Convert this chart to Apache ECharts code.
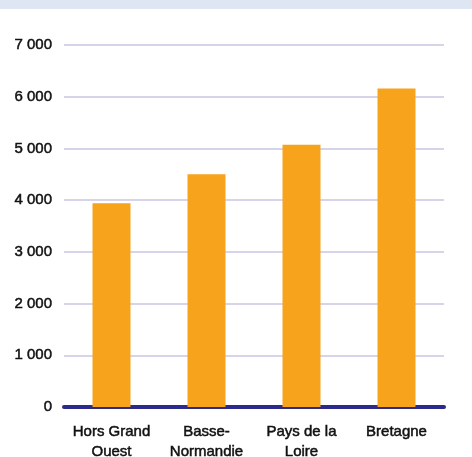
<!DOCTYPE html>
<html>
<head>
<meta charset="utf-8">
<script src="https://cdn.jsdelivr.net/npm/echarts@6/dist/echarts.min.js"></script>
<style>
html,body{margin:0;padding:0;background:#fff;}
#c{width:472px;height:457px;}
</style>
</head>
<body>
<div id="c"></div>
<script>
var categories = ['Hors Grand\nOuest', 'Basse-\nNormandie', 'Pays de la\nLoire', 'Bretagne'];
var values = [3940, 4500, 5070, 6160];
var yTicks = { min: 0, max: 7000, interval: 1000 };

var chart = echarts.init(document.getElementById('c'), null, { renderer: 'canvas' });
chart.setOption({
  animation: false,
  backgroundColor: '#ffffff',
  graphic: [{
    type: 'rect', left: 0, top: 0,
    shape: { width: 472, height: 9 },
    style: { fill: '#dfe6f3' }, silent: true
  }],
  grid: { left: 64, right: 28, top: 45, bottom: 50, containLabel: false, outerBoundsMode: 'none' },
  xAxis: {
    type: 'category',
    data: categories,
    axisTick: { show: false },
    axisLine: { show: true, lineStyle: { color: '#2b2a8c', width: 4, cap: 'round' } },
    axisLabel: {
      color: '#111', fontSize: 15, fontFamily: 'Liberation Sans, Arial, sans-serif',
      textBorderColor: '#111', textBorderWidth: 0.5,
      lineHeight: 20, margin: 15, interval: 0
    }
  },
  yAxis: {
    type: 'value',
    min: yTicks.min, max: yTicks.max, interval: yTicks.interval,
    axisLine: { show: false },
    axisTick: { show: false },
    splitLine: { lineStyle: { color: '#c8c6e4', width: 1.5 } },
    axisLabel: {
      color: '#111', fontSize: 15, fontFamily: 'Liberation Sans, Arial, sans-serif',
      textBorderColor: '#111', textBorderWidth: 0.5,
      margin: 12,
      formatter: function (v) { return String(v).replace(/\B(?=(\d{3})+(?!\d))/g, ' '); }
    }
  },
  series: [{
    type: 'bar',
    data: values,
    barWidth: 38,
    itemStyle: { color: '#f7a31c' },
    z: 1
  }]
});
</script>
</body>
</html>
